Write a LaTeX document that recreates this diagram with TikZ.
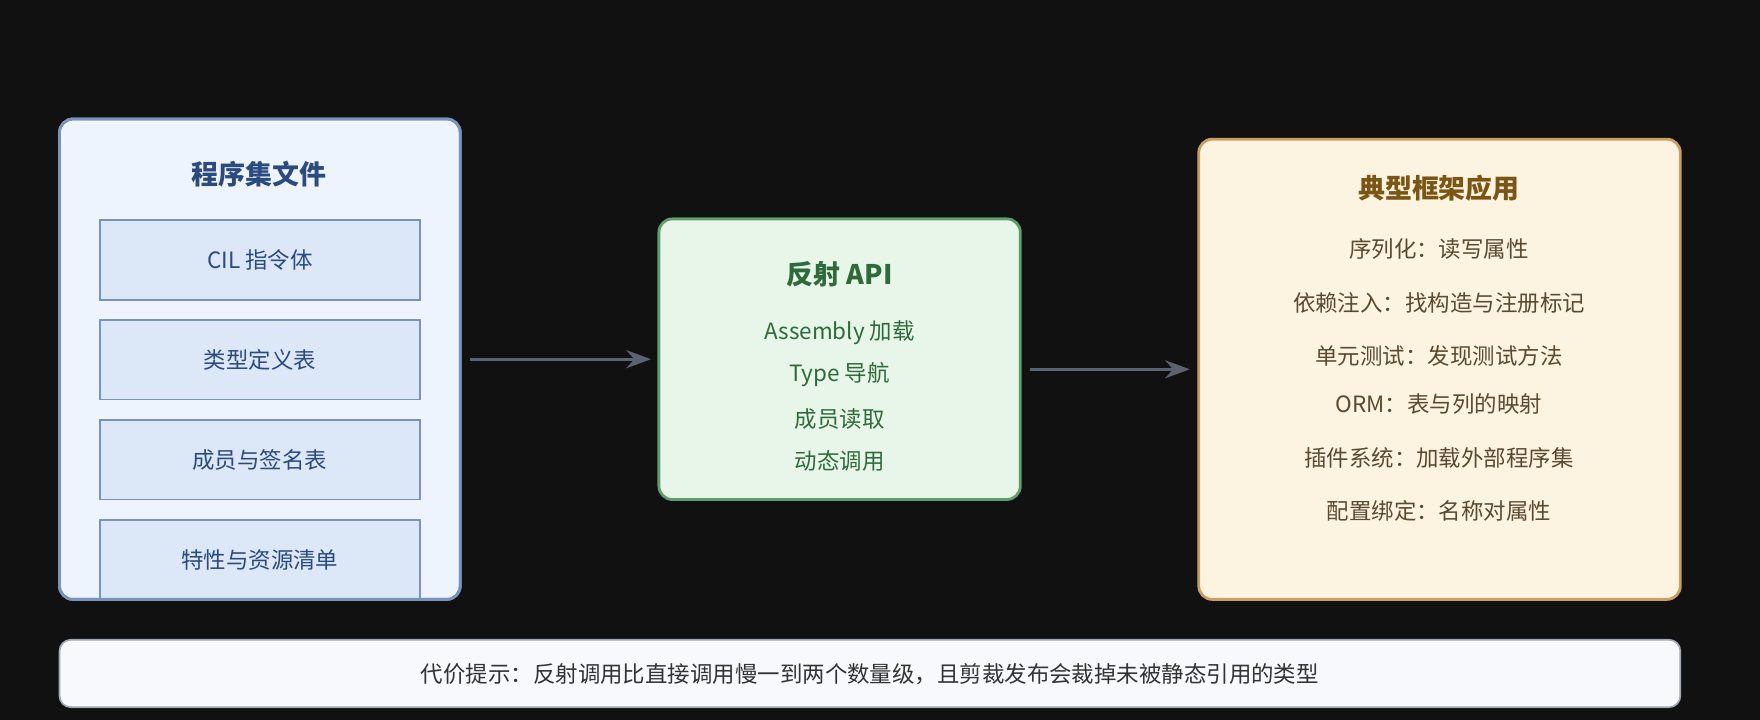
\documentclass[tikz,border=0pt]{standalone}
\usepackage{fontspec}
\setmainfont{Noto Sans CJK SC}
\usetikzlibrary{arrows.meta}
\definecolor{bg}{HTML}{111111}
\definecolor{lfill}{HTML}{EEF4FD}\definecolor{lbord}{HTML}{7A93BD}\definecolor{lin}{HTML}{DCE7F7}\definecolor{ltxt}{HTML}{2B4A7E}
\definecolor{mfill}{HTML}{E8F5E9}\definecolor{mbord}{HTML}{5E9E6E}\definecolor{mtxt}{HTML}{2E6B3A}
\definecolor{rfill}{HTML}{FDF3E1}\definecolor{rbord}{HTML}{C9A063}\definecolor{rtxt}{HTML}{7A5514}\definecolor{rbody}{HTML}{5A4A30}
\definecolor{arr}{HTML}{5B6270}\definecolor{nfill}{HTML}{F7F9FC}\definecolor{nbord}{HTML}{A0A8B5}
\begin{document}
\begin{tikzpicture}[x=1pt,y=-1pt,
 box/.style={rounded corners=12pt,line width=2.5pt},
 inner/.style={draw=lbord,fill=lin,line width=1.5pt,minimum width=285pt,minimum height=71pt,font=\fontsize{20}{24}\selectfont,text=ltxt},
 ttl/.style={font=\fontsize{24}{28}\selectfont\bfseries},
 body/.style={font=\fontsize{20}{24}\selectfont},
 conn/.style={draw=arr,line width=3pt,-{Stealth[length=22pt,width=16pt]}}]
\fill[bg] (0,0) rectangle (1568,641);
\draw[box,draw=lbord,fill=lfill] (53,106) rectangle (410,534);
\node[ttl,text=ltxt] (lt) at (231,155) {程序集文件};
\node[inner] (l1) at (231.5,231.5) {CIL 指令体};
\node[inner] (l2) at (231.5,320.5) {类型定义表};
\node[inner] (l3) at (231.5,409.5) {成员与签名表};
\begin{scope}
\clip (53,450) rectangle (410,534);
\node[inner] (l4) at (231.5,498.5) {特性与资源清单};
\end{scope}
\draw[rounded corners=12pt,line width=2.5pt,draw=lbord] (53,106) rectangle (410,534);
\draw[box,draw=mbord,fill=mfill] (587,195) rectangle (909,445);
\node[ttl,text=mtxt] (mt) at (748,244) {反射 API};
\node[body,text=mtxt] (m1) at (748,296) {Assembly 加载};
\node[body,text=mtxt] (m2) at (748,334) {Type 导航};
\node[body,text=mtxt] (m3) at (748,373) {成员读取};
\node[body,text=mtxt] (m4) at (748,411) {动态调用};
\draw[box,draw=rbord,fill=rfill] (1068,124) rectangle (1497,534);
\node[ttl,text=rtxt] (rt) at (1282,168) {典型框架应用};
\node[body,text=rbody] at (1282,222) {序列化：读写属性};
\node[body,text=rbody] at (1282,270) {依赖注入：找构造与注册标记};
\node[body,text=rbody] at (1282,317) {单元测试：发现测试方法};
\node[body,text=rbody] at (1282,360) {ORM：表与列的映射};
\node[body,text=rbody] at (1282,408) {插件系统：加载外部程序集};
\node[body,text=rbody] at (1282,455) {配置绑定：名称对属性};
\coordinate (a1) at (419,320); \coordinate (a2) at (580,320);
\coordinate (b1) at (918,329); \coordinate (b2) at (1060,329);
\draw[conn] (a1) -- (a2);
\draw[conn] (b1) -- (b2);
\draw[rounded corners=10pt,line width=1.5pt,draw=nbord,fill=nfill] (53,570) rectangle (1497,630);
\node[body,text=black!80] (note) at (775,601) {代价提示：反射调用比直接调用慢一到两个数量级，且剪裁发布会裁掉未被静态引用的类型};
\end{tikzpicture}
\end{document}
